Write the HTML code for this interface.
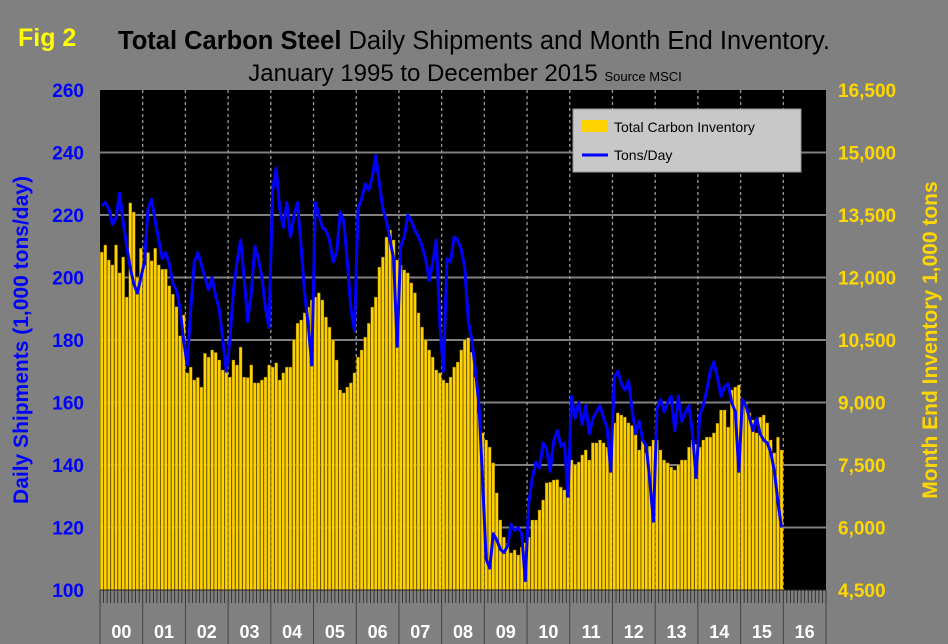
<!DOCTYPE html>
<html><head><meta charset="utf-8"><style>
body{margin:0;background:#808080;}
svg{display:block;font-family:"Liberation Sans",Arial,sans-serif;}
</style></head><body>
<svg id="chart" width="948" height="644" viewBox="0 0 948 644">
<rect x="0" y="0" width="948" height="644" fill="#808080"/>
<text x="18" y="46" font-size="25" font-weight="bold" fill="#ffff00">Fig 2</text>
<text x="474" y="49" font-size="25.5" text-anchor="middle" fill="#000"><tspan font-weight="bold">Total Carbon Steel</tspan> Daily Shipments and Month End Inventory.</text>
<text x="465" y="81" font-size="24" text-anchor="middle" fill="#000">January 1995 to December 2015 <tspan font-size="13">Source MSCI</tspan></text>
<rect x="100" y="90" width="726" height="500" fill="#000"/>
<g id="grid"></g><g id="bars"></g><g id="line"></g><g id="axes"></g>
<text transform="translate(28,340) rotate(-90)" font-size="21" font-weight="bold" fill="#0000ff" text-anchor="middle">Daily Shipments (1,000 tons/day)</text>
<text transform="translate(937,340) rotate(-90)" font-size="21" font-weight="bold" fill="#ffd700" text-anchor="middle">Month End Inventory 1,000 tons</text>
<g>
<rect x="573" y="109" width="228" height="63" fill="#c8c8c8" stroke="#999"/>
<rect x="582" y="120" width="26" height="12" fill="#ffd200"/>
<text x="614" y="132" font-size="14" fill="#000">Total Carbon Inventory</text>
<line x1="582" y1="155" x2="608" y2="155" stroke="#0000ff" stroke-width="3"/>
<text x="614" y="160" font-size="14" fill="#000">Tons/Day</text>
</g>
</svg>
<script>
const years=["00","01","02","03","04","05","06","07","08","09","10","11","12","13","14","15","16"];
const leftTicks=[100,120,140,160,180,200,220,240,260];
const rightTicks=["4,500","6,000","7,500","9,000","10,500","12,000","13,500","15,000","16,500"];
const inventory=[
12610,12780,12420,12300,12780,12110,12490,11530,13790,13570,12000,12700,
12300,12600,12400,12700,12300,12200,12200,11800,11600,11300,10600,11100,
9710,9850,9540,9600,9370,10180,10090,10260,10200,10020,9780,10100,
9610,10020,9900,10330,9610,9600,9900,9470,9470,9540,9610,9900,
9850,9950,9540,9710,9850,9850,10500,10900,10980,11150,11290,11460,
11530,11630,11460,11050,10810,10500,10020,9300,9230,9370,9470,9710,
10090,10260,10570,10900,11290,11530,12250,12490,12970,13140,12900,12420,
12300,12180,12110,11870,11630,11150,10810,10500,10260,10090,9780,9710,
9540,9470,9610,9850,9970,10260,10500,10550,10210,9610,8750,8270,
8100,7930,7550,6830,6180,5770,5630,5390,5460,5340,5530,5630,
5770,6180,6180,6420,6660,7070,7090,7140,7150,6970,6900,6730,
7620,7500,7570,7740,7860,7620,8030,8030,8100,8030,7930,7780,
8510,8750,8700,8650,8510,8450,8270,7860,8100,7790,7950,8100,
8100,7860,7620,7550,7450,7380,7500,7620,7620,7930,8100,8000,
7930,8100,8170,8170,8270,8500,8820,8820,8410,9300,9370,9420,
9010,9000,8750,8580,8270,8650,8700,8510,8100,7790,8170,7860];
const shipments=[
223,224,222,217,219,227,218,210,203,198,195,200,
205,222,225,218,212,206,208,204,198,196,190,180,
172,190,205,208,204,200,196,200,194,190,180,170,
180,196,205,212,200,186,195,210,206,200,190,184,
228,235,222,216,224,213,220,224,210,195,185,172,
224,220,216,215,212,205,208,221,218,205,190,183,
222,225,230,228,232,239,230,222,218,212,206,178,
210,213,220,218,215,213,210,206,199,205,212,185,
170,206,205,213,212,209,203,186,180,170,159,135,
110,107,118,116,113,112,114,121,119,120,118,103,
128,136,141,139,147,145,138,148,151,146,147,130,
162,155,160,153,159,150,155,157,159,155,152,138,
168,170,166,164,167,158,150,154,148,146,135,122,
158,161,157,160,162,151,162,154,157,159,150,136,
156,159,164,170,173,168,162,165,166,160,157,138,
161,159,155,151,155,150,148,147,144,138,128,120];
const NS="http://www.w3.org/2000/svg";
const X0=100,X1=826,YT=90,YB=590;
const yearW=(X1-X0)/years.length, monthW=yearW/12;
const yL=v=>YB-(v-100)/160*(YB-YT);
const yR=v=>YB-(v-4500)/12000*(YB-YT);
const xM=i=>X0+(i+0.5)*monthW;
function mk(tag,attrs,parent){const e=document.createElementNS(NS,tag);for(const k in attrs)e.setAttribute(k,attrs[k]);parent.appendChild(e);return e;}
const grid=document.getElementById('grid'),bars=document.getElementById('bars'),line=document.getElementById('line'),axes=document.getElementById('axes');
leftTicks.forEach((t,i)=>{
  const y=yL(t);
  if(i>0&&i<leftTicks.length-1){const g=mk('line',{x1:X0,x2:X1,y1:y,y2:y,stroke:'#808080','stroke-width':2},grid);
  
  }
  const tl=mk('text',{x:84,y:y+7,'font-size':19,'font-weight':'bold',fill:'#0000ff','text-anchor':'end'},axes);tl.textContent=t;
  
  
  const tr=mk('text',{x:838,y:y+7,'font-size':19,'font-weight':'bold',fill:'#ffd700'},axes);tr.textContent=rightTicks[i];
  
  
});
for(let k=1;k<years.length;k++){
  const x=X0+k*yearW;
  const g=mk('line',{x1:x,x2:x,y1:YT,y2:YB,stroke:'#999','stroke-width':1.3,'stroke-dasharray':'3,3'},grid);
  
  
}
inventory.forEach((v,i)=>{
  const y=yR(v);
  const b=mk('rect',{x:xM(i)-monthW*0.42,y:y,width:monthW*0.84,height:YB-y,fill:'#ffd200',stroke:'#7a6200','stroke-width':0.4},bars);
  
  
});
const p=mk('polyline',{points:shipments.map((v,i)=>xM(i).toFixed(1)+','+yL(v).toFixed(1)).join(' '),fill:'none',stroke:'#0000ff','stroke-width':3,'stroke-linejoin':'round'},line);


const strip=mk('rect',{x:X0,y:YB,width:X1-X0,height:13,fill:'#808080'},axes);


for(let m=0;m<=years.length*12;m++){
  const x=X0+m*monthW;
  const t=mk('line',{x1:x,x2:x,y1:YB,y2:YB+13,stroke:'#222','stroke-width':0.8},axes);
  
  
}
mk('line',{x1:X0,x2:X1,y1:YB,y2:YB,stroke:'#222','stroke-width':1},axes);
years.forEach((yv,k)=>{
  const x=X0+k*yearW;
  const d=mk('line',{x1:x,x2:x,y1:YB+13,y2:644,stroke:'#444','stroke-width':1},axes);
  
  
  const t=mk('text',{x:x+yearW/2,y:638,'font-size':18,'font-weight':'bold',fill:'#fff','text-anchor':'middle'},axes);
  t.textContent=yv;
  
  
});
mk('line',{x1:X1,x2:X1,y1:YB+13,y2:644,stroke:'#444','stroke-width':1},axes);
</script>
</body></html>
